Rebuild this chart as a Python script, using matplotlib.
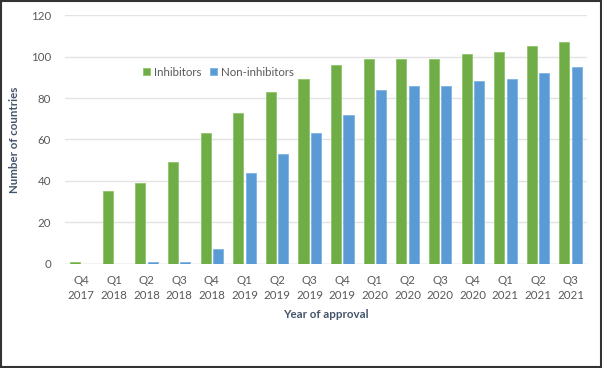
import matplotlib.pyplot as plt
import numpy as np
from matplotlib.patches import Rectangle

# data
quarters = ["Q4\n2017", "Q1\n2018", "Q2\n2018", "Q3\n2018", "Q4\n2018", "Q1\n2019",
            "Q2\n2019", "Q3\n2019", "Q4\n2019", "Q1\n2020", "Q2\n2020", "Q3\n2020",
            "Q4\n2020", "Q1\n2021", "Q2\n2021", "Q3\n2021"]
inhibitors = [1, 35, 39, 49, 63, 73, 83, 89, 96, 99, 99, 99, 101, 102, 105, 107]
non_inhibitors = [0, 0, 1, 1, 7, 44, 53, 63, 72, 84, 86, 86, 88, 89, 92, 95]

green = "#70AD47"
blue = "#5B9BD5"
txt = "#595959"
lab = "#44546A"
fs = 8.3

plt.rcParams['font.family'] = ['Lato', 'DejaVu Sans']

fig = plt.figure(figsize=(6.02, 3.68), dpi=100)
ax = fig.add_axes([0.108, 0.283, 0.867, 0.676])

x = np.arange(len(quarters))
w = 0.31
ax.bar(x - 0.19, inhibitors, w, color=green, edgecolor="#8CC56A", linewidth=0.6,
       label="Inhibitors", zorder=3)
ax.bar(x + 0.19, non_inhibitors, w, color=blue, edgecolor="#7FB3E3", linewidth=0.6,
       label="Non-inhibitors", zorder=3)

ax.set_xlim(-0.5, len(quarters) - 0.5)
ax.set_ylim(0, 120)
ax.set_yticks(range(0, 121, 20))
ax.set_xticks(x)
ax.set_xticklabels(quarters, fontsize=fs, color=txt, linespacing=1.45)
ax.tick_params(axis='y', labelsize=fs, labelcolor=txt, length=0, pad=10)
ax.tick_params(axis='x', length=0, pad=8)
ax.grid(axis='y', color="#E3E3E3", linewidth=1, zorder=0)
for s in ax.spines.values():
    s.set_visible(False)
ax.axhline(0, color="#D9D9D9", linewidth=1, zorder=2)

ax.set_xlabel("Year of approval", fontsize=fs, fontweight='bold', color=lab, labelpad=6)
ax.set_ylabel("Number of countries", fontsize=fs, fontweight='bold', color=lab, labelpad=8)

leg = ax.legend(loc='center left', bbox_to_anchor=(0.13, 0.77), ncol=2, frameon=False,
                fontsize=fs, handlelength=0.6, handleheight=0.6, handletextpad=0.3,
                columnspacing=0.8)
for t in leg.get_texts():
    t.set_color(txt)

fig.patches.append(Rectangle((0.002, 0.003), 0.996, 0.994, transform=fig.transFigure,
                             fill=False, edgecolor="#333333", linewidth=1.5))

fig.savefig("out.png", dpi=100)
